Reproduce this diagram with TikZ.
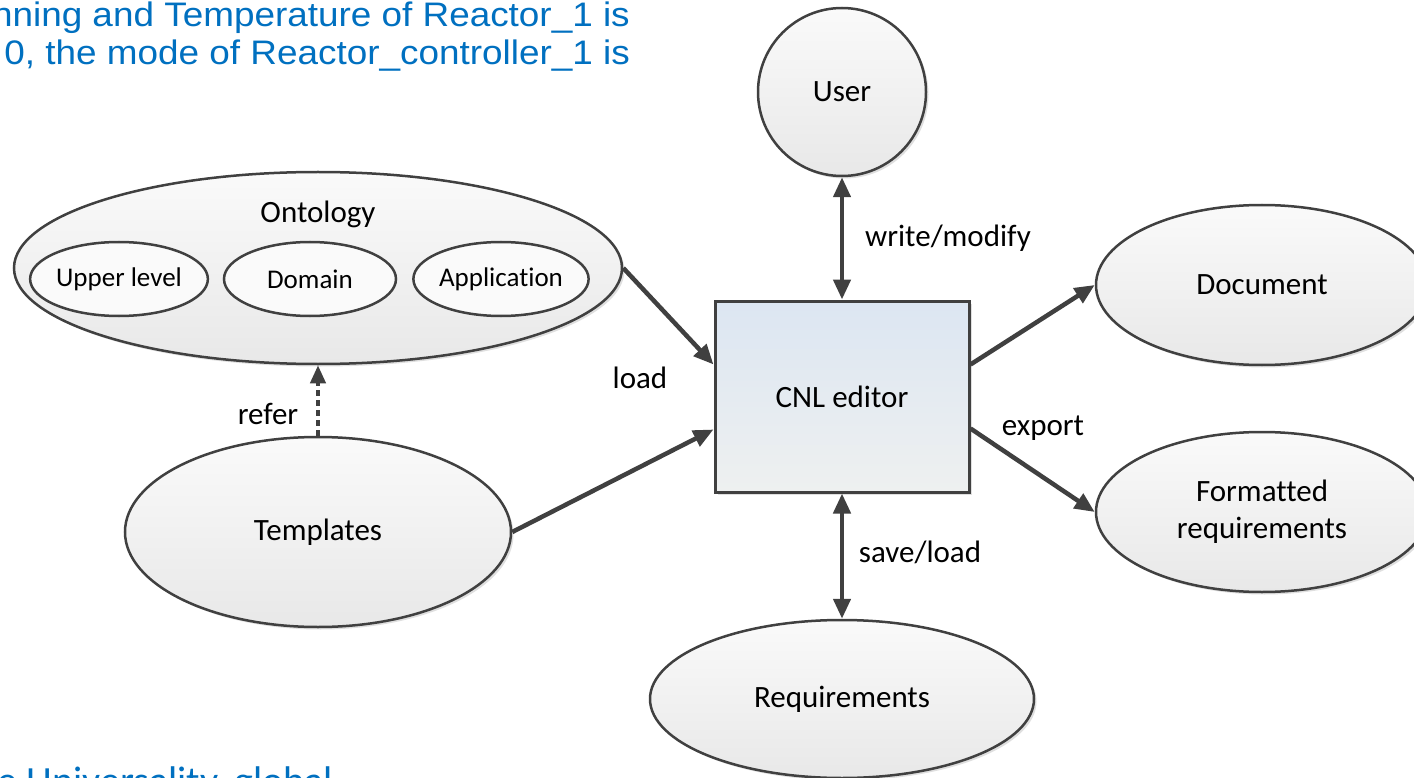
\documentclass[tikz,border=0pt]{standalone}
\usepackage{fontspec}
\setmainfont{Carlito}[Ligatures={NoCommon}]
\newfontfamily\arialfont{Liberation Sans}[FakeStretch=1.085]
\usetikzlibrary{shapes.geometric,arrows.meta,calc,shadows}
\definecolor{edgegray}{HTML}{404040}
\definecolor{bluetxt}{HTML}{0070C0}
\definecolor{boxtop}{HTML}{DCE6F2}
\definecolor{boxbot}{HTML}{EEF0F0}
\definecolor{elltop}{HTML}{FAFAFA}
\definecolor{ellbot}{HTML}{E8E8E8}
\tikzset{
  softshadow/.style={drop shadow={shadow xshift=2.5pt, shadow yshift=-2.5pt, fill=gray, opacity=0.25}},
  ell/.style={ellipse, draw=edgegray, line width=2.5pt, top color=elltop, bottom color=ellbot, inner sep=0pt, align=center, font=\fontsize{31}{37}\selectfont, softshadow},
  subell/.style={ellipse, draw=edgegray, line width=2.5pt, fill=elltop, inner sep=0pt, minimum width=172pt, minimum height=74pt, font=\fontsize{27}{32}\selectfont},
  editorbox/.style={rectangle, draw=edgegray, line width=3pt, top color=boxtop, bottom color=boxbot, minimum width=254pt, minimum height=191pt, font=\fontsize{31}{36}\selectfont, softshadow},
  conn/.style={draw=edgegray, line width=4.5pt, -{Triangle[length=20pt,width=17pt]}},
  biconn/.style={draw=edgegray, line width=4.5pt, {Triangle[length=20pt,width=17pt]}-{Triangle[length=20pt,width=17pt]}},
  lbl/.style={font=\fontsize{31}{36}\selectfont, inner sep=0pt},
  bluetext/.style={text=bluetxt, inner sep=0pt, font=\arialfont\fontsize{34}{38}\selectfont, align=right}
}
\begin{document}
\begin{tikzpicture}[x=1pt,y=-1pt]
\useasboundingbox (0,0) rectangle (1414,778);
\clip (0,0) rectangle (1414,778);
\fill[white] (0,0) rectangle (1414,778);

% blue texts
\node[bluetext, anchor=base east] (t1) at (630,27) {nning and Temperature of Reactor\_1 is};
\node[bluetext, anchor=base east] (t2) at (630,65) {0, the mode of Reactor\_controller\_1 is};
\node[text=bluetxt, inner sep=0pt, font=\fontsize{40}{44}\selectfont, anchor=base east] (t3) at (333,794) {e Universality, global};

% nodes
\node[ell, circle, minimum size=168pt] (user) at (842,92) {User};
\node[editorbox] (cnl) at (842,396.5) {CNL editor};
\node[ell, minimum width=608pt, minimum height=192pt] (onto) at (318,268) {};
\node[lbl] (ontolbl) at (318,214) {Ontology};
\node[subell] (upper) at (119,279) {Upper level};
\node[subell] (domain) at (310,279) {Domain};
\node[subell] (app) at (501,279) {Application};
\node[ell, minimum width=386pt, minimum height=190pt] (tpl) at (318,532) {Templates};
\node[ell, minimum width=332pt, minimum height=160pt] (doc) at (1262,285) {Document};
\node[ell, minimum width=332pt, minimum height=160pt] (fr) at (1262,512) {Formatted\\requirements};
\node[ell, minimum width=384pt, minimum height=158pt] (req) at (842,699) {Requirements};

% connectors
\draw[biconn] (user.south) -- (cnl.north);
\draw[biconn] (cnl.south) -- (req.north);
\draw[conn] (onto.east) -- ($(cnl.north west)!0.335!(cnl.south west)$);
\draw[conn] (tpl.east) -- ($(cnl.north west)!0.67!(cnl.south west)$);
\draw[conn] ($(cnl.north east)!0.335!(cnl.south east)$) -- (doc.west);
\draw[conn] ($(cnl.north east)!0.665!(cnl.south east)$) -- (fr.west);
\draw[draw=edgegray, line width=4pt, dash pattern=on 6pt off 4pt, -{Triangle[length=18pt,width=15pt]}] (tpl.north) -- (onto.south);

% labels
\node[lbl] (lwrite) at (948,238) {write/modify};
\node[lbl] (lload) at (640,378) {load};
\node[lbl] (lrefer) at (268,414) {refer};
\node[lbl] (lexport) at (1043,428) {export};
\node[lbl] (lsave) at (920,552) {save/load};
\end{tikzpicture}
\end{document}
